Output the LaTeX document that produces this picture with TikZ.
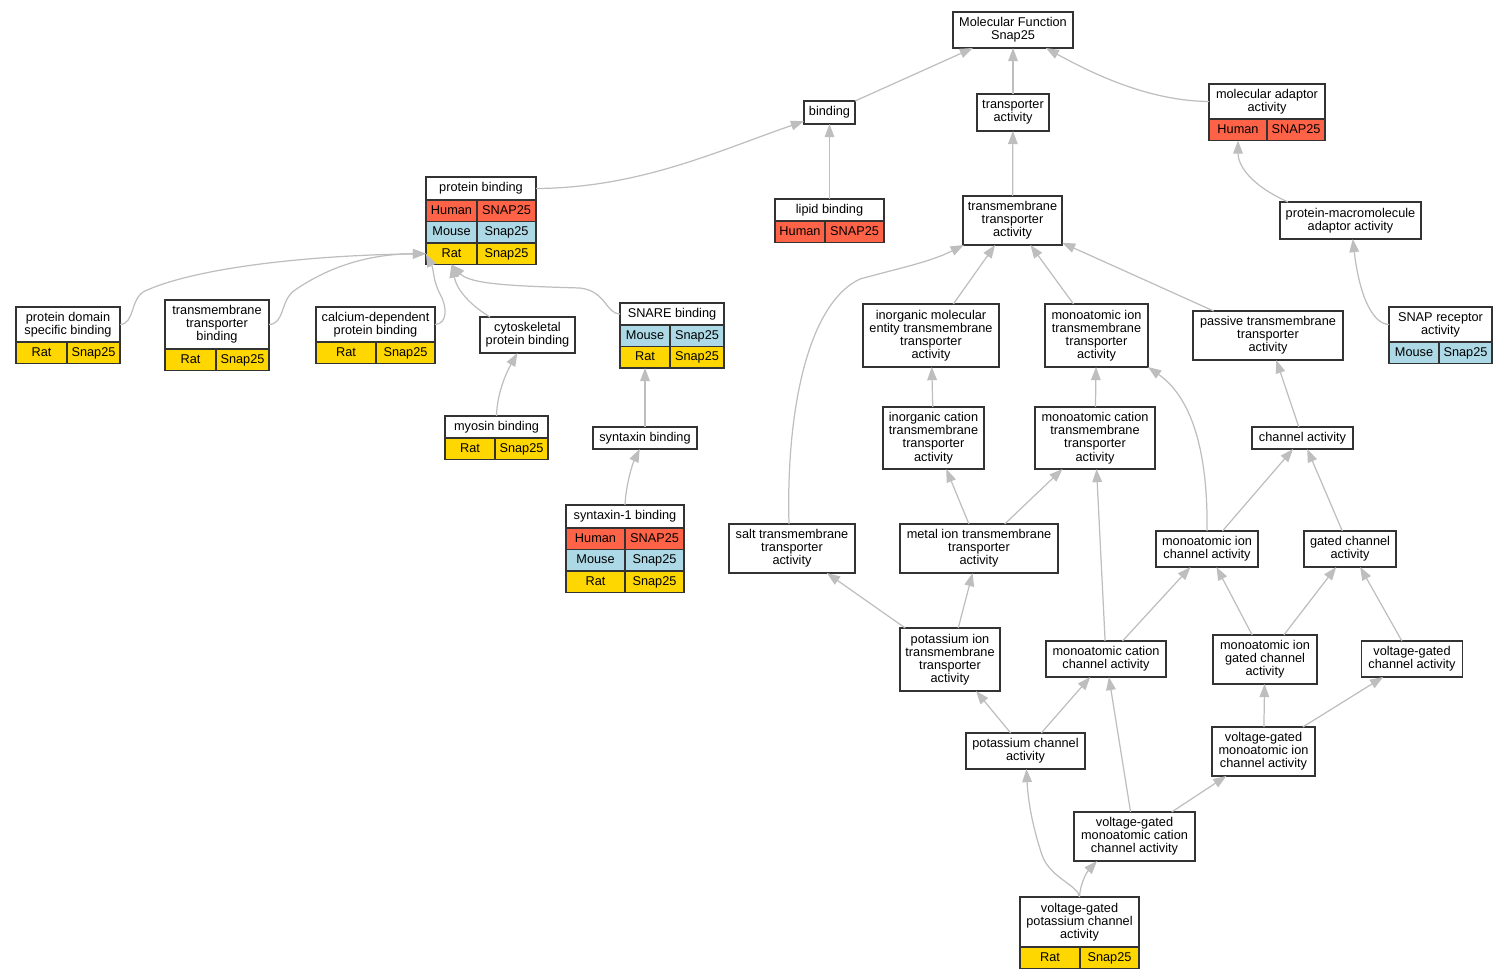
\documentclass[tikz,border=0pt]{standalone}
\usepackage{fontspec}
\setmainfont{Liberation Sans}
\usepackage{tikz}
\usetikzlibrary{arrows.meta, calc}
\definecolor{human}{RGB}{255, 99, 71}
\definecolor{mouse}{RGB}{173, 216, 230}
\definecolor{rat}{RGB}{255, 215, 0}
\definecolor{boxc}{RGB}{51, 51, 51}
\definecolor{edgec}{RGB}{190, 190, 190}

% 種・遺伝子の行 (名前, 上のノード, 色, 幅1, 幅2, 種, 遺伝子)
\newcommand{\orow}[7]{%
  \node[cell=#4, fill=#3] (#1) at (#2.south west) {#6};
  \node[cell=#5, fill=#3] (#1g) at (#1.north east) {#7};
}

\begin{document}
\begin{tikzpicture}[x=0.02cm, y=-0.02cm,
  every node/.style={font=\fontsize{7.25}{7.5}\selectfont},
  term/.style 2 args={draw=boxc, fill=white, line width=0.8pt, align=center,
    inner sep=0pt, outer sep=0pt, minimum width=#1*0.02cm, minimum height=#2*0.02cm},
  cell/.style={draw=boxc, line width=0.8pt, inner sep=0pt, outer sep=0pt, anchor=north west,
    text height=5.4pt, text depth=1.6pt,
    minimum width=#1*0.02cm, minimum height=21.5*0.02cm},
  isa/.style={draw=edgec, line width=0.7pt, -{Triangle[length=7.5pt, width=5.5pt]}}]
\useasboundingbox (0,0) rectangle (1507,979);

% 上段
\node[term={120}{36}] (root) at (1013,30) {Molecular Function\\Snap25};
\node[term={51}{23}] (bind) at (829.5,112.5) {binding};
\node[term={72}{37}] (trans) at (1013,112.5) {transporter\\activity};
\node[term={116}{35}] (madapt) at (1267,101.5) {molecular adaptor\\activity};
\orow{madapt1}{madapt}{human}{58}{58}{Human}{SNAP25}

\node[term={110}{23}] (pbind) at (481,188.5) {protein binding};
\orow{pbind1}{pbind}{human}{51}{59}{Human}{SNAP25}
\orow{pbind2}{pbind1}{mouse}{51}{59}{Mouse}{Snap25}
\orow{pbind3}{pbind2}{rat}{51}{59}{Rat}{Snap25}
\node[term={109}{22}] (lipid) at (829.5,210) {lipid binding};
\orow{lipid1}{lipid}{human}{50}{59}{Human}{SNAP25}
\node[term={99}{49}] (tmta) at (1012.5,220.5) {transmembrane\\transporter\\activity};
\node[term={141}{37}] (pma) at (1350.5,220.5) {protein-macromolecule\\adaptor activity};

% binding 側
\node[term={104}{35}] (pdsb) at (68,324.5) {protein domain\\specific binding};
\orow{pdsb1}{pdsb}{rat}{51}{53}{Rat}{Snap25}
\node[term={104}{49}] (ttb) at (217,324.5) {transmembrane\\transporter\\binding};
\orow{ttb1}{ttb}{rat}{51}{53}{Rat}{Snap25}
\node[term={119}{35}] (cdpb) at (375.5,324.5) {calcium-dependent\\protein binding};
\orow{cdpb1}{cdpb}{rat}{60}{59}{Rat}{Snap25}
\node[term={95}{36}] (cyto) at (527.5,335) {cytoskeletal\\protein binding};
\node[term={104}{22}] (snare) at (672,314) {SNARE binding};
\orow{snare1}{snare}{mouse}{50}{54}{Mouse}{Snap25}
\orow{snare2}{snare1}{rat}{50}{54}{Rat}{Snap25}
\node[term={103}{35}] (snapr) at (1440.5,324.5) {SNAP receptor\\activity};
\orow{snapr1}{snapr}{mouse}{50}{53}{Mouse}{Snap25}
\node[term={103}{22}] (myosin) at (496.5,427) {myosin binding};
\orow{myosin1}{myosin}{rat}{50}{53}{Rat}{Snap25}
\node[term={104}{22}] (synb) at (645,438) {syntaxin binding};
\node[term={118}{23}] (syn1) at (625,516.5) {syntaxin-1 binding};
\orow{syn11}{syn1}{human}{59}{59}{Human}{SNAP25}
\orow{syn12}{syn11}{mouse}{59}{59}{Mouse}{Snap25}
\orow{syn13}{syn12}{rat}{59}{59}{Rat}{Snap25}

% transporter 側
\node[term={136}{63}] (imeta) at (931,335.5) {inorganic molecular\\entity transmembrane\\transporter\\activity};
\node[term={103}{63}] (mita) at (1096.5,335.5) {monoatomic ion\\transmembrane\\transporter\\activity};
\node[term={150}{49}] (ptta) at (1268,335.5) {passive transmembrane\\transporter\\activity};
\node[term={101}{62}] (icta) at (933.5,438) {inorganic cation\\transmembrane\\transporter\\activity};
\node[term={120}{62}] (mcta) at (1095,438) {monoatomic cation\\transmembrane\\transporter\\activity};
\node[term={101}{22}] (chan) at (1302.5,438) {channel activity};
\node[term={126}{49}] (salt) at (792,548.5) {salt transmembrane\\transporter\\activity};
\node[term={158}{49}] (metal) at (979,548.5) {metal ion transmembrane\\transporter\\activity};
\node[term={102}{36}] (mica) at (1207,549) {monoatomic ion\\channel activity};
\node[term={92}{36}] (gated) at (1350,549) {gated channel\\activity};
\node[term={100}{63}] (kita) at (950,659.5) {potassium ion\\transmembrane\\transporter\\activity};
\node[term={120}{36}] (mcca) at (1106,659) {monoatomic cation\\channel activity};
\node[term={104}{49}] (migca) at (1265,659.5) {monoatomic ion\\gated channel\\activity};
\node[term={101}{36}] (vgca) at (1412,659) {voltage-gated\\channel activity};
\node[term={119}{36}] (kca) at (1025.5,751) {potassium channel\\activity};
\node[term={103}{49}] (vgmica) at (1263.5,751.5) {voltage-gated\\monoatomic ion\\channel activity};
\node[term={121}{49}] (vgmcca) at (1134.5,836.5) {voltage-gated\\monoatomic cation\\channel activity};
\node[term={119}{50}] (vgkca) at (1079.5,922) {voltage-gated\\potassium channel\\activity};
\orow{vgkca1}{vgkca}{rat}{60}{59}{Rat}{Snap25}

% is_a の矢印
\draw[isa] (bind) -- (root);
\draw[isa] (trans) -- (root);
\draw[isa] (madapt.west) .. controls (1150,101) and (1095,75) .. (root);
\draw[isa] (pbind.east) .. controls (640,188) and (720,150) .. (bind);
\draw[isa] (lipid) -- (bind);
\draw[isa] (tmta) -- (trans);
\draw[isa] ($(pma.north west)+(8,0)$) .. controls (1250,185) and (1238,165) .. (madapt1.south);
\draw[isa] (pdsb.east) .. controls (135,324) and (130,298) .. (145,291) .. controls (200,266) and (320,255) .. (pbind3.west);
\draw[isa] (ttb.east) .. controls (285,324) and (280,300) .. (295,290) .. controls (330,266) and (370,254) .. (pbind3.west);
\draw[isa] (cdpb.east) .. controls (448,324) and (447,306) .. (440,294) .. controls (433,281) and (434,270) .. (pbind3.west);
\draw[isa] ($(cyto.north west)+(10,0)$) .. controls (470,305) and (457,290) .. (pbind3.south);
\draw[isa] (snare.west) .. controls (606,314) and (606,291) .. (580,288) .. controls (510,286) and (470,284) .. (pbind3.south);
\draw[isa] (myosin.north) .. controls (497,395) and (505,375) .. (cyto);
\draw[isa] (synb) -- (snare2);
\draw[isa] (syn1.north) .. controls (626,485) and (632,465) .. (synb);
\draw[isa] (snapr.west) .. controls (1374,324) and (1360,300) .. (pma);

\draw[isa] ($(salt.north)+(-3,0)$) .. controls (786,420) and (805,305) .. (860,279) .. controls (900,268) and (930,262) .. (tmta);
\draw[isa] (imeta) -- (tmta);
\draw[isa] (mita) -- (tmta);
\draw[isa] (ptta) -- (tmta);
\draw[isa] (icta) -- (imeta);
\draw[isa] (mcta) -- (mita);
\draw[isa] (chan) -- (ptta);
\draw[isa] (mica.north) .. controls (1208,460) and (1195,400) .. (mita.south east);
\draw[isa] (mica) -- (chan);
\draw[isa] (gated) -- (chan);
\draw[isa] (metal) -- (icta);
\draw[isa] (metal) -- (mcta);
\draw[isa] (kita) -- (salt);
\draw[isa] (kita) -- (metal);
\draw[isa] (mcca) -- (mcta);
\draw[isa] (mcca) -- (mica);
\draw[isa] (migca) -- (mica);
\draw[isa] (migca) -- (gated);
\draw[isa] (vgca) -- (gated);
\draw[isa] (kca) -- (kita);
\draw[isa] (kca) -- (mcca);
\draw[isa] (vgmica) -- (migca);
\draw[isa] (vgmica) -- (vgca);
\draw[isa] (vgmcca) -- (mcca);
\draw[isa] (vgmcca) -- (vgmica);
\draw[isa] (vgkca.north) .. controls (1078,885) and (1050,878) .. (1042,855) .. controls (1032,825) and (1028,800) .. (kca);
\draw[isa] (vgkca.north) .. controls (1080,885) and (1086,873) .. ($(vgmcca.south west)+(23,0)$);
\end{tikzpicture}
\end{document}
